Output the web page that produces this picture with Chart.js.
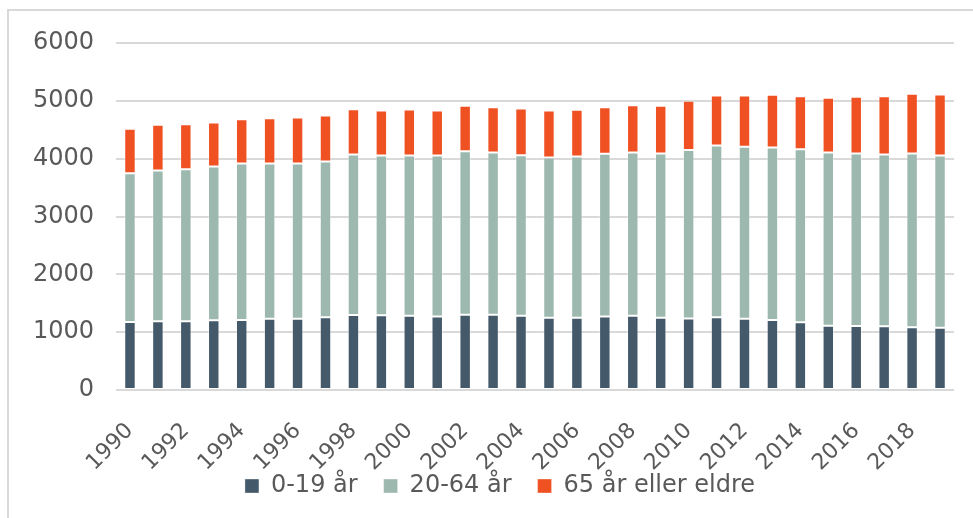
<!DOCTYPE html>
<html lang="no">
<head>
<meta charset="utf-8">
<title>Befolkning etter alder, 1990–2019</title>
<script src="https://cdn.jsdelivr.net/npm/chart.js@4/dist/chart.umd.min.js"></script>
<style>
  html, body { margin: 0; padding: 0; background: #fff; }
  body { width: 973px; height: 518px; overflow: hidden; position: relative; }
  /* thin frame round the chart, runs off the right and bottom edge like the source */
  .frame { position: absolute; left: 7px; top: 9px; width: 1000px; height: 560px; border: 2px solid #d9d9d9; box-sizing: border-box; }
  .wrap { position: absolute; left: 0; top: 0; width: 973px; height: 518px; }
</style>
</head>
<body>
<div class="frame"></div>
<div class="wrap"><canvas id="chart" width="973" height="518"></canvas></div>
<script>
// ---- data ----
const years = [1990, 1991, 1992, 1993, 1994, 1995, 1996, 1997, 1998, 1999,
               2000, 2001, 2002, 2003, 2004, 2005, 2006, 2007, 2008, 2009,
               2010, 2011, 2012, 2013, 2014, 2015, 2016, 2017, 2018, 2019];
const young = [1176, 1187, 1187, 1204, 1211, 1234, 1234, 1257, 1298, 1292,
               1286, 1269, 1303, 1303, 1286, 1251, 1251, 1269, 1286, 1251,
               1237, 1257, 1234, 1211, 1170, 1113, 1107, 1101, 1084, 1078];
const working = [2572, 2607, 2630, 2659, 2704, 2681, 2681, 2693, 2773, 2762,
                 2768, 2785, 2825, 2803, 2773, 2768, 2785, 2814, 2820, 2837,
                 2915, 2970, 2970, 2981, 2993, 2993, 2981, 2970, 3004, 2976];
const elderly = [768, 791, 778, 762, 767, 784, 796, 796, 784, 778,
                 796, 778, 785, 784, 808, 813, 808, 807, 819, 825,
                 850, 865, 888, 912, 917, 946, 981, 1009, 1033, 1055];
const seriesNames = ["0-19 år", "20-64 år", "65 år eller eldre"];
const yTicks = [0, 1000, 2000, 3000, 4000, 5000, 6000];

const COLORS = ["#44596a", "#9db8ae", "#f05123"];
const TEXT = "#595959";
const GRID = "#d9d9d9";
const FAMILY = "Verdana, 'DejaVu Sans', sans-serif";
const FONT = { family: FAMILY, size: 24 };
const XFONT = { family: FAMILY, size: 22 };

function bar(label, data, color) {
  return {
    label, data, backgroundColor: color,
    borderColor: "rgba(255,255,255,0.35)", borderWidth: 1, borderSkipped: false,
    barPercentage: 0.41, categoryPercentage: 1,
  };
}

// legend sits a bit right of centre in the source; the slanted year labels sit
// lower and hang past the x box we reserve, so move them and widen the clip
const tweaks = {
  id: "tweaks",
  afterLayout(chart) {
    chart.legend.left += 8; chart.legend.right += 8;
    const x = chart.scales.x;
    x.top += 8;
    x.bottom = x.top + 110;
  },
};

new Chart(document.getElementById("chart"), {
  type: "bar",
  data: {
    labels: years.map(String),
    datasets: [
      bar(seriesNames[0], young, COLORS[0]),
      bar(seriesNames[1], working, COLORS[1]),
      bar(seriesNames[2], elderly, COLORS[2]),
    ],
  },
  plugins: [tweaks],
  options: {
    responsive: false,
    animation: false,
    layout: { padding: { left: 30, right: 19, top: 43, bottom: 10 } },
    plugins: {
      tooltip: { enabled: false },
      legend: {
        position: "bottom",
        labels: { color: TEXT, font: FONT, boxWidth: 14, boxHeight: 14, padding: 26 },
      },
    },
    scales: {
      x: {
        stacked: true,
        grid: { display: false },
        border: { display: false },
        afterFit: (s) => { s.height = 58; },
        ticks: {
          color: TEXT, font: XFONT, autoSkip: false,
          maxRotation: 45, minRotation: 45, padding: 12,
          callback: (v, i) => (i % 2 === 0 ? String(years[i]) : ""),
        },
      },
      y: {
        stacked: true,
        min: 0, max: 6000,
        afterBuildTicks: (s) => { s.ticks = yTicks.map((v) => ({ value: v })); },
        afterFit: (s) => { s.width = 86; },
        grid: { color: GRID, lineWidth: 2, drawTicks: false },
        border: { display: false },
        ticks: { color: TEXT, font: FONT, padding: 22, callback: (v) => String(v) },
      },
    },
  },
});
</script>
</body>
</html>
